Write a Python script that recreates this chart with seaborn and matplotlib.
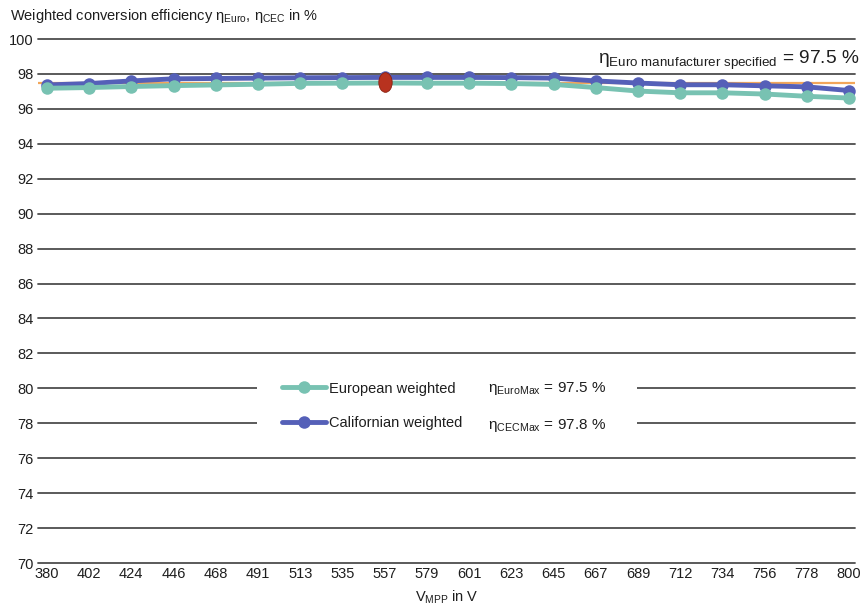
import numpy as np
import pandas as pd
import matplotlib
matplotlib.use("Agg")
import matplotlib.pyplot as plt
import matplotlib.path as mpath
from matplotlib.patches import Rectangle
from matplotlib.lines import Line2D
import seaborn as sns

# ---- data ----
vmpp_labels = ["380", "402", "424", "446", "468", "491", "513", "535", "557", "579",
               "601", "623", "645", "667", "689", "712", "734", "756", "778", "800"]
euro_weighted = [97.18, 97.22, 97.28, 97.33, 97.37, 97.41, 97.46, 97.47, 97.48, 97.47,
                 97.47, 97.45, 97.40, 97.22, 97.02, 96.92, 96.92, 96.85, 96.72, 96.62]
cec_weighted = [97.37, 97.45, 97.60, 97.72, 97.74, 97.76, 97.78, 97.79, 97.80, 97.80,
                97.80, 97.79, 97.76, 97.60, 97.48, 97.38, 97.38, 97.32, 97.26, 97.05]
euro_max_index = [8]
euro_max_value = [97.55]
euro_specified = 97.5
y_ticks = [70, 72, 74, 76, 78, 80, 82, 84, 86, 88, 90, 92, 94, 96, 98, 100]

sns.set_theme(style="white")
FONT = ["Liberation Sans", "DejaVu Sans"]
plt.rcParams["font.family"] = FONT
plt.rcParams["mathtext.fontset"] = "custom"
plt.rcParams["mathtext.rm"] = "Liberation Sans"
plt.rcParams["mathtext.it"] = "Liberation Sans:italic"
plt.rcParams["mathtext.bf"] = "Liberation Sans:bold"

teal = "#78c2b2"
blue = "#5560b8"
grid_c = "#4d4d4d"
txt_c = "#1e1e1e"

df = pd.DataFrame({
    "pos": list(range(len(vmpp_labels))) * 2,
    "eff": euro_weighted + cec_weighted,
    "series": ["European weighted"] * len(vmpp_labels) + ["Californian weighted"] * len(vmpp_labels),
})

fig = plt.figure(figsize=(8.66, 6.12), dpi=100)
ax = fig.add_axes([38 / 866, 1 - 563 / 612, (855 - 38) / 866, (563 - 39) / 612])

for yv in y_ticks:
    ax.axhline(yv, color=grid_c, lw=1.3, zorder=1, clip_on=False)

ax.axhline(euro_specified, color="#f2a65a", lw=1.6, zorder=2)

sns.lineplot(data=df, x="pos", y="eff", hue="series",
             palette={"European weighted": teal, "Californian weighted": blue},
             hue_order=["Californian weighted", "European weighted"],
             marker="o", markersize=9, markeredgewidth=0, lw=3.5,
             ax=ax, legend=False, zorder=4)

# red highlight marker (vertical ellipse)
circ = mpath.Path.unit_circle()
ell = mpath.Path(circ.vertices * np.array([0.68, 1.0]), circ.codes)
sns.scatterplot(x=euro_max_index, y=euro_max_value, marker=ell, s=200,
                color="#b8321f", edgecolor="#8a2010", linewidth=0.6, ax=ax, zorder=6)

ax.set_xlim(-0.21, 19.14)
ax.set_ylim(70, 100)
ax.set_xticks(range(len(vmpp_labels)))
ax.set_xticklabels(vmpp_labels)
ax.set_yticks(y_ticks)
ax.set_yticklabels([str(v) for v in y_ticks])
ax.tick_params(axis="x", length=0, pad=3, labelsize=10.5, colors=txt_c)
ax.tick_params(axis="y", length=0, pad=3, labelsize=10.5, colors=txt_c)
for s in ax.spines.values():
    s.set_visible(False)
ax.set_ylabel("")
ax.set_xlabel("V$_{\\mathrm{MPP}}$ in V", fontsize=10.5, labelpad=5, color=txt_c)

# white box behind legend
ax.add_patch(Rectangle((4.98, 77.35), 9.0, 3.4, facecolor="white", edgecolor="none", zorder=3))

handles = [
    Line2D([], [], color=teal, lw=3.5, marker="o", markersize=9, markeredgewidth=0),
    Line2D([], [], color=blue, lw=3.5, marker="o", markersize=9, markeredgewidth=0),
]
leg = ax.legend(handles, ["European weighted", "Californian weighted"],
                loc="center left", bbox_to_anchor=(0.29, 0.3), frameon=False,
                borderpad=0, handlelength=3.0, handletextpad=0.2, labelspacing=1.4,
                fontsize=10.5)
leg.set_zorder(5)
for t in leg.get_texts():
    t.set_color(txt_c)

ax.text(10.45, 80.0, "η$_{\\mathrm{EuroMax}}$ = 97.5 %", fontsize=11, va="center",
        ha="left", zorder=5, color=txt_c)
ax.text(10.45, 77.9, "η$_{\\mathrm{CECMax}}$ = 97.8 %", fontsize=11, va="center",
        ha="left", zorder=5, color=txt_c)

ax.text(19.25, 98.75, "η$_{\\mathrm{Euro\\ manufacturer\\ specified}}$ = 97.5 %",
        fontsize=13.8, ha="right", va="center", color=txt_c)

fig.text(10 / 866, 1 - 16 / 612,
         "Weighted conversion efficiency η$_{\\mathrm{Euro}}$, η$_{\\mathrm{CEC}}$ in %",
         fontsize=10.5, ha="left", va="center", color=txt_c)

fig.savefig("out.png", dpi=100)
